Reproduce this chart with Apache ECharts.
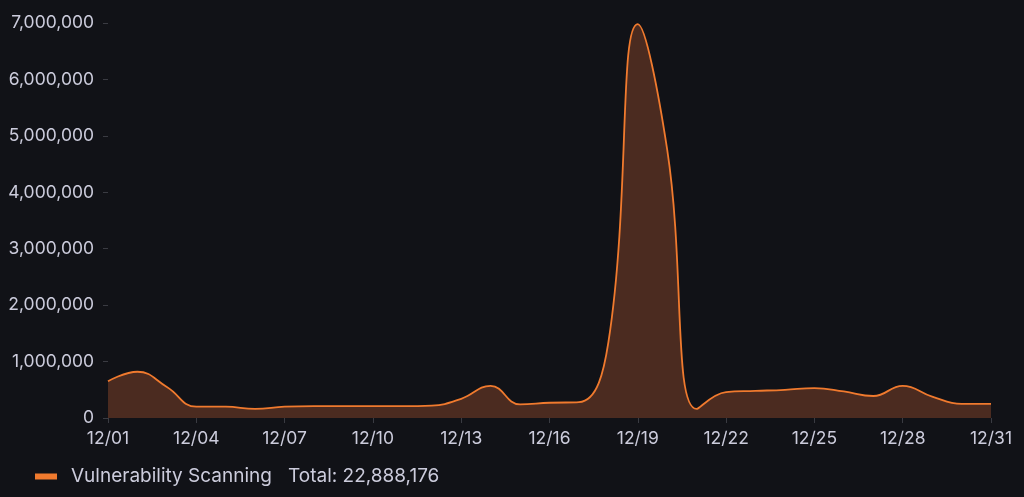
<!DOCTYPE html>
<html>
<head>
<meta charset="utf-8">
<script src="https://cdn.jsdelivr.net/npm/echarts@6/dist/echarts.min.js"></script>
<style>
html,body{margin:0;padding:0;background:#111217;}
#c{width:1024px;height:497px;}
</style>
</head>
<body>
<div id="c"></div>
<script>
const categories = ['12/01','12/02','12/03','12/04','12/05','12/06','12/07','12/08','12/09','12/10','12/11','12/12','12/13','12/14','12/15','12/16','12/17','12/18','12/19','12/20','12/21','12/22','12/23','12/24','12/25','12/26','12/27','12/28','12/29','12/30','12/31'];
const values = [650000,820000,550000,200000,200000,160000,200000,210000,210000,210000,210000,220000,340000,570000,240000,270000,280000,1340000,6980000,4750000,160000,460000,480000,500000,530000,470000,390000,570000,380000,250000,250000];
const seriesName = 'Vulnerability Scanning';
const totalLabel = 'Total: 22,888,176';

const chart = echarts.init(document.getElementById('c'));
const textColor = '#CCCCDC';
const font = 'Inter';
chart.setOption({
  backgroundColor: '#111217',
  animation: false,
  grid: {left: 108, right: 33, top: 23, bottom: 79},
  xAxis: {
    type: 'category',
    data: categories,
    boundaryGap: false,
    axisLine: {show: false},
    axisTick: {show: true, interval: 2, length: 5, lineStyle: {color: '#3a3b42'}},
    axisLabel: {interval: 2, color: textColor, fontFamily: font, fontSize: 17.5, margin: 12},
    splitLine: {show: false}
  },
  yAxis: {
    type: 'value',
    min: 0, max: 7000000, interval: 1000000,
    axisLine: {show: false},
    axisTick: {show: true, length: 5, lineStyle: {color: '#3a3b42'}},
    axisLabel: {color: textColor, fontFamily: font, fontSize: 17.5, margin: 14,
      formatter: v => v.toLocaleString('en-US')},
    splitLine: {show: false}
  },
  legend: {
    left: 30, top: 462,
    icon: 'rect', itemWidth: 22, itemHeight: 6, itemGap: 10,
    textStyle: {color: textColor, fontFamily: font, fontSize: 19, padding: [0, 0, 0, 9]},
    formatter: name => name + '   ' + totalLabel,
    data: [seriesName]
  },
  series: [{
    name: seriesName,
    type: 'line',
    data: values,
    smooth: 0.45,
    symbol: 'none',
    lineStyle: {color: '#F07A2E', width: 1.8},
    itemStyle: {color: '#F07A2E'},
    areaStyle: {color: '#4B2B20', opacity: 1}
  }]
});
</script>
</body>
</html>
